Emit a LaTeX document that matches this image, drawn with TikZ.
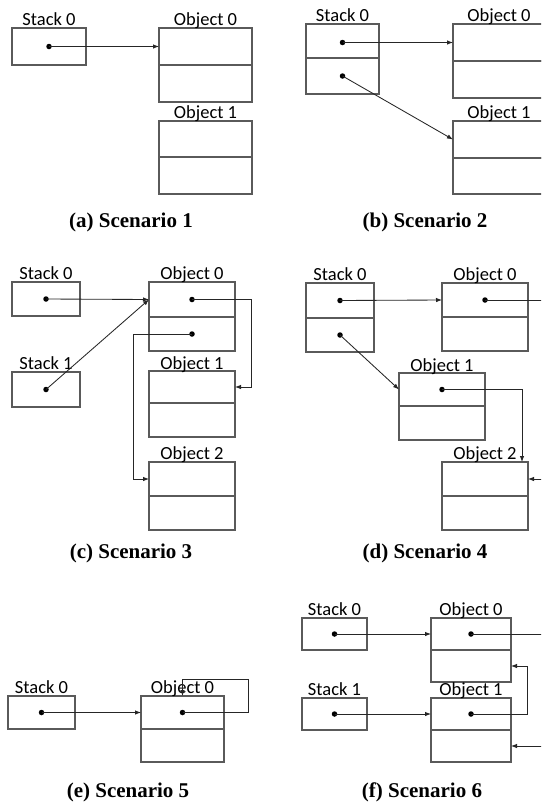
\documentclass[tikz,border=0pt]{standalone}
\usepackage{fontspec}
\newfontfamily\lblfont{Carlito}
\newfontfamily\capfont{Liberation Serif}
\usetikzlibrary{arrows.meta}
\definecolor{boxgray}{HTML}{5A5A5A}
\definecolor{wirec}{HTML}{262626}
\tikzset{
  cell/.style={draw=boxgray, line width=1.1pt, inner sep=0pt, outer sep=0pt, anchor=north west},
  dotn/.style={circle, fill=black, inner sep=0pt, minimum size=5.5pt},
  ptr/.style={draw=wirec, line width=0.85pt, -{Latex[length=6pt,width=4.5pt]}},
  wire/.style={draw=wirec, line width=0.85pt},
  lbl/.style={font=\lblfont\fontsize{18.5}{19}\selectfont, anchor=base, inner sep=0pt},
  capt/.style={font=\capfont\bfseries\fontsize{21}{22}\selectfont, anchor=center, inner sep=0pt}
}
\begin{document}
\begin{tikzpicture}[x=1pt,y=-1pt]
\useasboundingbox (0,0) rectangle (541,803);
\clip (0,0) rectangle (541,803);
\fill[white] (0,0) rectangle (541,803);

% ---------------- (a) ----------------
\node[cell, minimum width=74pt, minimum height=37pt] (a-s0) at (12,28) {};
\node[cell, minimum width=93pt, minimum height=37pt] (a-o0t) at (159,28) {};
\node[cell, minimum width=93pt, minimum height=37pt] (a-o0b) at (159,65) {};
\node[cell, minimum width=93pt, minimum height=36pt] (a-o1t) at (159,121) {};
\node[cell, minimum width=93pt, minimum height=37pt] (a-o1b) at (159,157) {};
\node[lbl] (a-l0) at ([yshift=3pt]a-s0.north) {Stack 0};
\node[lbl] (a-l1) at ([yshift=3pt]a-o0t.north) {Object 0};
\node[lbl] (a-l2) at ([yshift=3pt]a-o1t.north) {Object 1};
\node[dotn] (a-d0) at (a-s0.center) {};
\draw[ptr] (a-d0.center) -- (a-o0t.west);
\node[capt] (a-cap) at (131,222) {(a) Scenario 1};

% ---------------- (b) ----------------
\node[cell, minimum width=73pt, minimum height=34pt] (b-s0t) at (306,24) {};
\node[cell, minimum width=73pt, minimum height=36pt] (b-s0b) at (306,58) {};
\node[cell, minimum width=92pt, minimum height=37pt] (b-o0t) at (453,24) {};
\node[cell, minimum width=92pt, minimum height=37pt] (b-o0b) at (453,61) {};
\node[cell, minimum width=92pt, minimum height=37pt] (b-o1t) at (453,121) {};
\node[cell, minimum width=92pt, minimum height=36pt] (b-o1b) at (453,158) {};
\node[lbl] (b-l0) at ([yshift=3pt]b-s0t.north) {Stack 0};
\node[lbl] (b-l1) at ([yshift=3pt]b-o0t.north) {Object 0};
\node[lbl] (b-l2) at ([yshift=3pt]b-o1t.north) {Object 1};
\node[dotn] (b-d0) at (342.5,42.5) {};
\node[dotn] (b-d1) at (342.5,76) {};
\draw[ptr] (b-d0.center) -- (b-o0t.west);
\draw[ptr] (b-d1.center) -- (b-o1t.west);
\node[capt] (b-cap) at (425,222) {(b) Scenario 2};

% ---------------- (c) ----------------
\node[cell, minimum width=68pt, minimum height=34pt] (c-s0) at (12,282) {};
\node[cell, minimum width=68pt, minimum height=35pt] (c-s1) at (12,372) {};
\node[cell, minimum width=86pt, minimum height=35pt] (c-o0t) at (149,282) {};
\node[cell, minimum width=86pt, minimum height=34pt] (c-o0b) at (149,317) {};
\node[cell, minimum width=86pt, minimum height=32pt] (c-o1t) at (149,371) {};
\node[cell, minimum width=86pt, minimum height=34pt] (c-o1b) at (149,403) {};
\node[cell, minimum width=86pt, minimum height=34pt] (c-o2t) at (149,462) {};
\node[cell, minimum width=86pt, minimum height=34pt] (c-o2b) at (149,496) {};
\node[lbl] (c-l0) at ([yshift=3pt]c-s0.north) {Stack 0};
\node[lbl] (c-l1) at ([yshift=3pt]c-s1.north) {Stack 1};
\node[lbl] (c-l2) at ([yshift=3pt]c-o0t.north) {Object 0};
\node[lbl] (c-l3) at ([yshift=2pt]c-o1t.north) {Object 1};
\node[lbl] (c-l4) at ([yshift=3pt]c-o2t.north) {Object 2};
\node[dotn] (c-d0) at (c-s0.center) {};
\node[dotn] (c-d1) at (c-s1.center) {};
\node[dotn] (c-d2) at (c-o0t.center) {};
\node[dotn] (c-d3) at (c-o0b.center) {};
\coordinate (c-kr) at (251,0);
\coordinate (c-kl) at (133,0);
\draw[ptr] (c-d0.center) -- (c-o0t.west);
\draw[ptr] (c-d1.center) -- (c-o0t.west);
\draw[ptr] (c-d2.center) -- (c-d2 -| c-kr) |- (c-o1t.east);
\draw[ptr] (c-d3.center) -- (c-d3 -| c-kl) |- (c-o2t.west);
\node[capt] (c-cap) at (131,553) {(c) Scenario 3};

% ---------------- (d) ----------------
\node[cell, minimum width=68pt, minimum height=35pt] (d-s0t) at (306,283) {};
\node[cell, minimum width=68pt, minimum height=34pt] (d-s0b) at (306,318) {};
\node[cell, minimum width=86pt, minimum height=34pt] (d-o0t) at (442,283) {};
\node[cell, minimum width=86pt, minimum height=34pt] (d-o0b) at (442,317) {};
\node[cell, minimum width=86pt, minimum height=33pt] (d-o1t) at (399,373) {};
\node[cell, minimum width=86pt, minimum height=34pt] (d-o1b) at (399,406) {};
\node[cell, minimum width=86pt, minimum height=34pt] (d-o2t) at (442,462) {};
\node[cell, minimum width=86pt, minimum height=34pt] (d-o2b) at (442,496) {};
\node[lbl] (d-l0) at ([yshift=3pt]d-s0t.north) {Stack 0};
\node[lbl] (d-l1) at ([yshift=3pt]d-o0t.north) {Object 0};
\node[lbl] (d-l2) at ([yshift=2pt]d-o1t.north) {Object 1};
\node[lbl] (d-l3) at ([yshift=3pt]d-o2t.north) {Object 2};
\node[dotn] (d-d0) at (d-s0t.center) {};
\node[dotn] (d-d1) at (d-s0b.center) {};
\node[dotn] (d-d2) at (d-o0t.center) {};
\node[dotn] (d-d3) at (d-o1t.center) {};
\coordinate (d-k) at (522,0);
\coordinate (d-e0) at (550,300);
\coordinate (d-e1) at (550,479);
\draw[ptr] (d-d0.center) -- (d-o0t.west);
\draw[ptr] (d-d1.center) -- (d-o1t.west);
\draw[wire] (d-d2.center) -- (d-d2 -| d-e0);
\draw[ptr] (d-d3.center) -| (d-k |- d-o2t.north);
\draw[ptr] (d-e1) -- (d-o2t.east);
\node[capt] (d-cap) at (425,553) {(d) Scenario 4};

% ---------------- (e) ----------------
\node[cell, minimum width=67pt, minimum height=33pt] (e-s0) at (8,696) {};
\node[cell, minimum width=83pt, minimum height=33pt] (e-o0t) at (141,696) {};
\node[cell, minimum width=83pt, minimum height=33pt] (e-o0b) at (141,729) {};
\node[lbl] (e-l0) at ([yshift=3pt]e-s0.north) {Stack 0};
\node[lbl] (e-l1) at ([yshift=3pt]e-o0t.north) {Object 0};
\node[dotn] (e-d0) at (e-s0.center) {};
\node[dotn] (e-d1) at (e-o0t.center) {};
\coordinate (e-k) at (248,679);
\draw[ptr] (e-d0.center) -- (e-o0t.west);
\draw[ptr] (e-d1.center) -| (e-k) -| (e-o0t.north);
\node[capt] (e-cap) at (128,792) {(e) Scenario 5};

% ---------------- (f) ----------------
\node[cell, minimum width=65pt, minimum height=32pt] (f-s0) at (302,618) {};
\node[cell, minimum width=65pt, minimum height=32pt] (f-s1) at (302,698) {};
\node[cell, minimum width=80pt, minimum height=32pt] (f-o0t) at (431,618) {};
\node[cell, minimum width=80pt, minimum height=32pt] (f-o0b) at (431,650) {};
\node[cell, minimum width=80pt, minimum height=32pt] (f-o1t) at (431,698) {};
\node[cell, minimum width=80pt, minimum height=32pt] (f-o1b) at (431,730) {};
\node[lbl] (f-l0) at ([yshift=3pt]f-s0.north) {Stack 0};
\node[lbl] (f-l1) at ([yshift=3pt]f-s1.north) {Stack 1};
\node[lbl] (f-l2) at ([yshift=3pt]f-o0t.north) {Object 0};
\node[lbl] (f-l3) at ([yshift=3pt]f-o1t.north) {Object 1};
\node[dotn] (f-d0) at (f-s0.center) {};
\node[dotn] (f-d1) at (f-s1.center) {};
\node[dotn] (f-d2) at (f-o0t.center) {};
\node[dotn] (f-d3) at (f-o1t.center) {};
\coordinate (f-k) at (527,0);
\coordinate (f-e0) at (550,634);
\coordinate (f-e1) at (550,746);
\draw[ptr] (f-d0.center) -- (f-o0t.west);
\draw[ptr] (f-d1.center) -- (f-o1t.west);
\draw[wire] (f-d2.center) -- (f-d2 -| f-e0);
\draw[ptr] (f-d3.center) -- (f-d3 -| f-k) |- (f-o0b.east);
\draw[ptr] (f-e1) -- (f-o1b.east);
\node[capt] (f-cap) at (422,792) {(f) Scenario 6};
\end{tikzpicture}
\end{document}
